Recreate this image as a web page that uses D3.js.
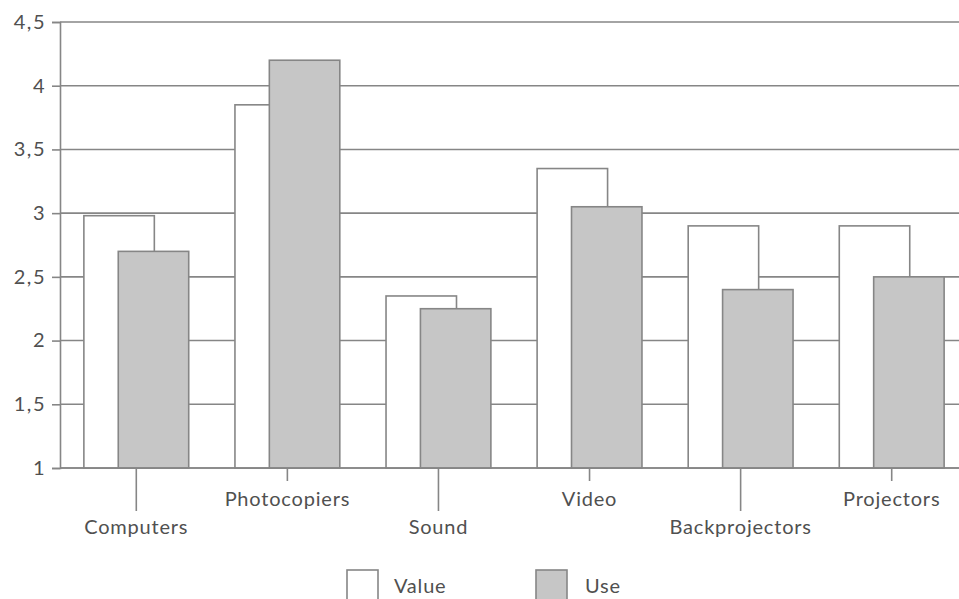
<!DOCTYPE html>
<html>
<head>
<meta charset="utf-8">
<script src="https://cdn.jsdelivr.net/npm/d3@7"></script>
<style>
  html, body { margin: 0; padding: 0; background: #fff; }
  svg { display: block; }
  text { font-family: Lato, "Open Sans", sans-serif; fill: #505050; }
</style>
</head>
<body>
<svg id="chart" width="959" height="599"></svg>
<script>
// Ratings per equipment type
const categories = ["Computers", "Photocopiers", "Sound", "Video", "Backprojectors", "Projectors"];
const valueScores = [2.98, 3.85, 2.35, 3.35, 2.9, 2.9];
const useScores = [2.7, 4.2, 2.25, 3.05, 2.4, 2.5];
const yTicks = [1, 1.5, 2, 2.5, 3, 3.5, 4, 4.5];
const seriesNames = ["Value", "Use"];
// alternate label rows so long names don't collide
const labelRow = [1, 0, 1, 0, 1, 0];

const svg = d3.select("#chart");
const plotLeft = 60, plotTop = 22, plotBottom = 468;
const lineColor = "#868686";
const useFill = "#c6c6c6";

const x = d3.scaleBand()
  .domain(categories)
  .range([plotLeft, 968])
  .paddingInner(0.306)
  .paddingOuter(0.158);

const y = d3.scaleLinear().domain([1, 4.5]).range([plotBottom, plotTop]);

const barW = x.bandwidth() * 0.672;
const useOffset = x.bandwidth() - barW;

// horizontal grid lines
svg.append("g")
  .selectAll("line")
  .data(yTicks)
  .join("line")
  .attr("x1", plotLeft).attr("x2", 959)
  .attr("y1", d => y(d)).attr("y2", d => y(d))
  .attr("stroke", lineColor).attr("stroke-width", 1.6);

// y axis
const yAxis = d3.axisLeft(y)
  .tickValues(yTicks)
  .tickSize(8)
  .tickPadding(6)
  .tickFormat(d => d3.format("")(d).replace(".", ","));
const yg = svg.append("g").attr("transform", `translate(${plotLeft},0)`).call(yAxis);
yg.select(".domain").attr("stroke", lineColor).attr("stroke-width", 1.6);
yg.selectAll(".tick line").attr("stroke", lineColor).attr("stroke-width", 1.6);
yg.selectAll(".tick text")
  .style("font-size", "20px")
  .style("letter-spacing", "1.5px")
  .style("font-family", "Lato, 'Open Sans', sans-serif")
  .attr("fill", "#505050");

// bars: value (white) behind, use (grey) in front
const groups = svg.append("g")
  .selectAll("g")
  .data(categories)
  .join("g")
  .attr("transform", d => `translate(${x(d)},0)`);

groups.append("rect")
  .attr("x", 0)
  .attr("y", (d, i) => y(valueScores[i]))
  .attr("width", barW)
  .attr("height", (d, i) => y(1) - y(valueScores[i]))
  .attr("fill", "#fff")
  .attr("stroke", lineColor).attr("stroke-width", 1.6);

groups.append("rect")
  .attr("x", useOffset)
  .attr("y", (d, i) => y(useScores[i]))
  .attr("width", barW)
  .attr("height", (d, i) => y(1) - y(useScores[i]))
  .attr("fill", useFill)
  .attr("stroke", lineColor).attr("stroke-width", 1.6);

// baseline
svg.append("line")
  .attr("x1", plotLeft).attr("x2", 959)
  .attr("y1", plotBottom).attr("y2", plotBottom)
  .attr("stroke", lineColor).attr("stroke-width", 1.6);

// category ticks and staggered labels
const cx = d => x(d) + x.bandwidth() / 2;
svg.append("g")
  .selectAll("line")
  .data(categories)
  .join("line")
  .attr("x1", cx).attr("x2", cx)
  .attr("y1", plotBottom)
  .attr("y2", (d, i) => labelRow[i] ? 511 : 481)
  .attr("stroke", lineColor).attr("stroke-width", 1.6);

svg.append("g")
  .selectAll("text")
  .data(categories)
  .join("text")
  .attr("x", cx)
  .attr("y", (d, i) => labelRow[i] ? 534 : 506)
  .attr("text-anchor", "middle")
  .style("font-size", "20px")
  .style("letter-spacing", "0.8px")
  .text(d => d);

// legend
const legendX = [347, 536];
const legend = svg.append("g")
  .selectAll("g")
  .data(seriesNames)
  .join("g")
  .attr("transform", (d, i) => `translate(${legendX[i]},570)`);
legend.append("rect")
  .attr("width", 31).attr("height", 32)
  .attr("fill", (d, i) => i === 0 ? "#fff" : useFill)
  .attr("stroke", lineColor).attr("stroke-width", 1.6);
legend.append("text")
  .attr("x", (d, i) => i === 0 ? 47 : 49)
  .attr("y", 23)
  .style("font-size", "20px")
  .style("letter-spacing", "0.8px")
  .text(d => d);
</script>
</body>
</html>
